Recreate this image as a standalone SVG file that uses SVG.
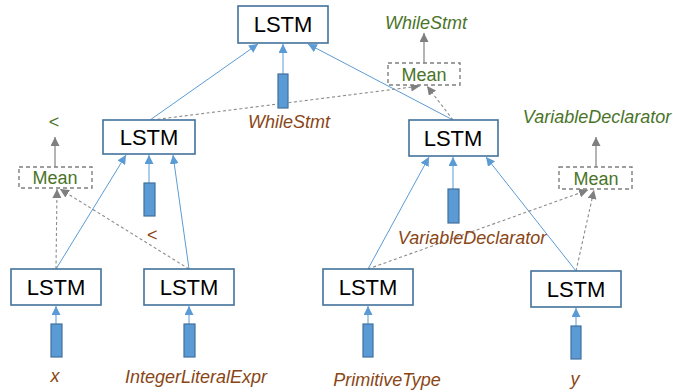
<svg xmlns="http://www.w3.org/2000/svg" width="673" height="392" viewBox="0 0 673 392">
<style>
.box{fill:#fff;stroke:#41719C;stroke-width:1.6}
.bar{fill:#5B9BD5;stroke:#41719C;stroke-width:1.2}
.mean{fill:#fff;stroke:#7F7F7F;stroke-width:1.4;stroke-dasharray:4 3}
.lt{font-family:"Liberation Sans",Arial,sans-serif;font-size:22px;fill:#000;text-anchor:middle}
.mt{font-family:"Liberation Sans",Arial,sans-serif;font-size:18px;fill:#4A7429;text-anchor:middle}
.gl{font-family:"Liberation Sans",Arial,sans-serif;font-size:18px;font-style:italic;fill:#4A7429;text-anchor:middle}
.bl{font-family:"Liberation Sans",Arial,sans-serif;font-size:18px;font-style:italic;fill:#8A4616;text-anchor:middle}
.blue{stroke:#5B9BD5;stroke-width:1;fill:none;marker-end:url(#ab)}
.gd{stroke:#8C8C8C;stroke-width:1.1;fill:none;stroke-dasharray:3 2.5;marker-end:url(#ag)}
.gs{stroke:#8C8C8C;stroke-width:1.3;fill:none;marker-end:url(#ag)}
</style>
<defs>
<marker id="ab" viewBox="0 0 10 10" refX="10" refY="5" markerWidth="9" markerHeight="9" markerUnits="userSpaceOnUse" orient="auto"><path d="M0,0 L10,5 L0,10 z" fill="#5B9BD5"/></marker>
<marker id="ag" viewBox="0 0 10 10" refX="10" refY="5" markerWidth="9" markerHeight="9" markerUnits="userSpaceOnUse" orient="auto"><path d="M0,0 L10,5 L0,10 z" fill="#7F7F7F"/></marker>
</defs>
<g id="connectors">
<line class="blue" x1="283" y1="74" x2="283" y2="44"/>
<line class="blue" x1="150" y1="120" x2="258" y2="44"/>
<line class="blue" x1="453" y1="120" x2="308" y2="44"/>
<line class="blue" x1="149" y1="183" x2="149" y2="155"/>
<line class="blue" x1="56" y1="269" x2="126" y2="155"/>
<line class="blue" x1="189" y1="269" x2="173" y2="155"/>
<line class="blue" x1="453" y1="189" x2="453" y2="157"/>
<line class="blue" x1="368" y1="269" x2="429" y2="157"/>
<line class="blue" x1="576" y1="271" x2="486" y2="157"/>
<line class="blue" x1="56" y1="324" x2="56" y2="306"/>
<line class="blue" x1="189" y1="324" x2="189" y2="306"/>
<line class="blue" x1="368" y1="324" x2="368" y2="306"/>
<line class="blue" x1="576" y1="326" x2="576" y2="308"/>
<line class="gd" x1="152" y1="120" x2="420" y2="86"/>
<line class="gd" x1="453" y1="120" x2="427" y2="86"/>
<line class="gd" x1="56" y1="269" x2="57" y2="189"/>
<line class="gd" x1="189" y1="269" x2="60" y2="189"/>
<line class="gd" x1="368" y1="269" x2="588" y2="190"/>
<line class="gd" x1="576" y1="271" x2="594" y2="190"/>
<line class="gs" x1="424" y1="63" x2="424" y2="33"/>
<line class="gs" x1="55" y1="167" x2="55" y2="137"/>
<line class="gs" x1="596" y1="167" x2="596" y2="137"/>
</g>
<g id="lstm_root"><rect class="box" x="238" y="6" width="90" height="37"/><text class="lt" x="283" y="32">LSTM</text></g>
<g id="in_root"><rect class="bar" x="278" y="74" width="10" height="34"/><text class="bl" x="289" y="128">WhileStmt</text></g>
<g id="mean_root"><rect class="mean" x="388" y="63" width="72" height="22"/><text class="mt" x="424" y="81">Mean</text><text class="gl" x="426" y="29">WhileStmt</text></g>
<g id="lstm_L"><rect class="box" x="103" y="120" width="92" height="34"/><text class="lt" x="149" y="145">LSTM</text></g>
<g id="in_L"><rect class="bar" x="144" y="183" width="11" height="33"/><text class="bl" x="152" y="241">&lt;</text></g>
<g id="mean_L"><rect class="mean" x="19" y="167" width="73" height="21"/><text class="mt" x="55" y="184">Mean</text><text class="gl" x="54" y="128" style="font-style:normal">&lt;</text></g>
<g id="lstm_R"><rect class="box" x="409" y="120" width="89" height="36"/><text class="lt" x="453" y="146">LSTM</text></g>
<g id="in_R"><rect class="bar" x="448" y="189" width="11" height="34"/><text class="bl" x="472" y="244">VariableDeclarator</text></g>
<g id="mean_R"><rect class="mean" x="559" y="167" width="73" height="22"/><text class="mt" x="596" y="185">Mean</text><text class="gl" x="597" y="123">VariableDeclarator</text></g>
<g id="lstm_B1"><rect class="box" x="11" y="269" width="90" height="36"/><text class="lt" x="56" y="295">LSTM</text></g>
<g id="in_B1"><rect class="bar" x="51" y="324" width="11" height="33"/><text class="bl" x="55" y="382">x</text></g>
<g id="lstm_B2"><rect class="box" x="144" y="269" width="90" height="36"/><text class="lt" x="189" y="295">LSTM</text></g>
<g id="in_B2"><rect class="bar" x="184" y="324" width="11" height="33"/><text class="bl" x="196" y="383">IntegerLiteralExpr</text></g>
<g id="lstm_B3"><rect class="box" x="323" y="269" width="90" height="36"/><text class="lt" x="368" y="295">LSTM</text></g>
<g id="in_B3"><rect class="bar" x="363" y="324" width="10" height="33"/><text class="bl" x="387" y="386">PrimitiveType</text></g>
<g id="lstm_B4"><rect class="box" x="531" y="271" width="90" height="36"/><text class="lt" x="576" y="297">LSTM</text></g>
<g id="in_B4"><rect class="bar" x="571" y="326" width="10" height="33"/><text class="bl" x="575" y="385">y</text></g>
</svg>
